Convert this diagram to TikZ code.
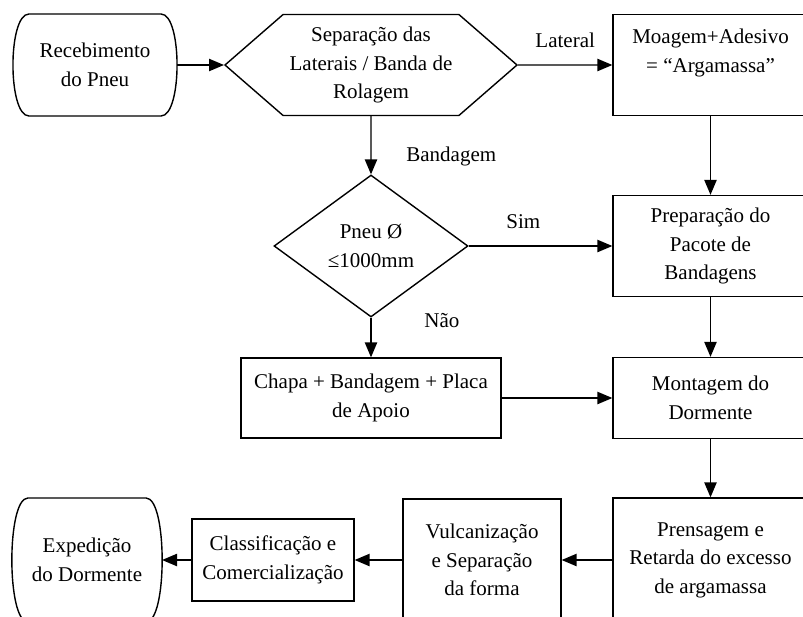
\documentclass[tikz,border=0pt]{standalone}
\usepackage{fontspec}
\setmainfont{Liberation Serif}
\usetikzlibrary{arrows}
\usetikzlibrary{shapes}
\usetikzlibrary{scopes}

\tikzset{
	etapa/.style={draw, rectangle, align=center, inner sep=2pt,
		font=\fontsize{10.5}{14.2}\selectfont},
	terminal/.style={etapa, draw=none, outer xsep=8pt, outer ysep=0pt},
	separa/.style={etapa, signal, signal to=west and east, signal pointer angle=82},
	decisao/.style={etapa, diamond, inner sep=0pt},
	rotulo/.style={font=\fontsize{10.5}{14.2}\selectfont}
}
%% outline of a terminal node (flat ends bulging out by 8pt)
\newcommand{\bordaterminal}[1]{%
	\draw ([xshift=-8pt]#1.north east)
		.. controls +(10.7pt,0) and +(10.7pt,0) .. ([xshift=-8pt]#1.south east)
		-- ([xshift=8pt]#1.south west)
		.. controls +(-10.7pt,0) and +(-10.7pt,0) .. ([xshift=8pt]#1.north west)
		-- cycle;}

\begin{document}
\begin{tikzpicture}[x=0.5pt, y=-0.5pt, line width=0.7pt, >=triangle 45]
		\useasboundingbox (0,0) rectangle (803,616);
		%% First row
		\node[terminal, minimum width=66pt, minimum height=51pt] (rec) at (95,65)
			{Recebimento\\do Pneu};
		\bordaterminal{rec}
		\node[separa, minimum width=146pt, minimum height=50.5pt] (sep) at (371,65)
			{Separação das\\Laterais / Banda de\\Rolagem};
		\node[etapa, minimum width=97.5pt, minimum height=50.5pt] (moa) at (710.5,65)
			{Moagem+Adesivo\\= “Argamassa”\\\mbox{}};
		%% Second row
		\node[decisao, minimum width=97pt, minimum height=71pt] (dia) at (371,246)
			{Pneu Ø\\≤1000mm};
		\node[etapa, minimum width=97.5pt, minimum height=50.5pt] (prep) at (710.5,246)
			{Preparação do\\Pacote de\\Bandagens};
		%% Third row
		\node[etapa, minimum width=130pt, minimum height=40pt] (chapa) at (371,398)
			{Chapa + Bandagem + Placa\\de Apoio};
		\node[etapa, minimum width=97.5pt, minimum height=40.5pt] (mont) at (710.5,398)
			{Montagem do\\Dormente};
		%% Last row
		\node[etapa, minimum width=97.5pt, minimum height=62pt] (pren) at (710.5,560)
			{Prensagem e\\Retarda do excesso\\de argamassa};
		\node[etapa, minimum width=79pt, minimum height=61pt] (vul) at (482,560)
			{Vulcanização\\e Separação\\da forma};
		\node[etapa, minimum width=81pt, minimum height=41pt] (cla) at (273,560)
			{Classificação e\\Comercialização};
		\node[terminal, minimum width=57.5pt, minimum height=62pt] (exp) at (87,560)
			{Expedição\\do Dormente};
		\bordaterminal{exp}
		%% Connectors
		\draw[->] (rec) -- (sep);
		\draw[->] (sep) -- node[rotulo, above=5pt] (lat) {Lateral} (moa);
		\draw[->] (sep) -- node[rotulo, pos=0.7, anchor=west, xshift=14pt] (band) {Bandagem} (dia);
		\draw[->] (dia) -- node[rotulo, pos=0.38, above=5pt] (sim) {Sim} (prep);
		\draw[->] (dia) -- node[rotulo, pos=0.08, anchor=west, xshift=23pt] (nao) {Não} (chapa);
		\draw[->] (moa) -- (prep);
		\draw[->] (prep) -- (mont);
		\draw[->] (chapa) -- (mont);
		\draw[->] (mont) -- (pren);
		\draw[->] (pren) -- (vul);
		\draw[->] (vul) -- (cla);
		\draw[->] (cla) -- (exp);
	\end{tikzpicture}
\end{document}
